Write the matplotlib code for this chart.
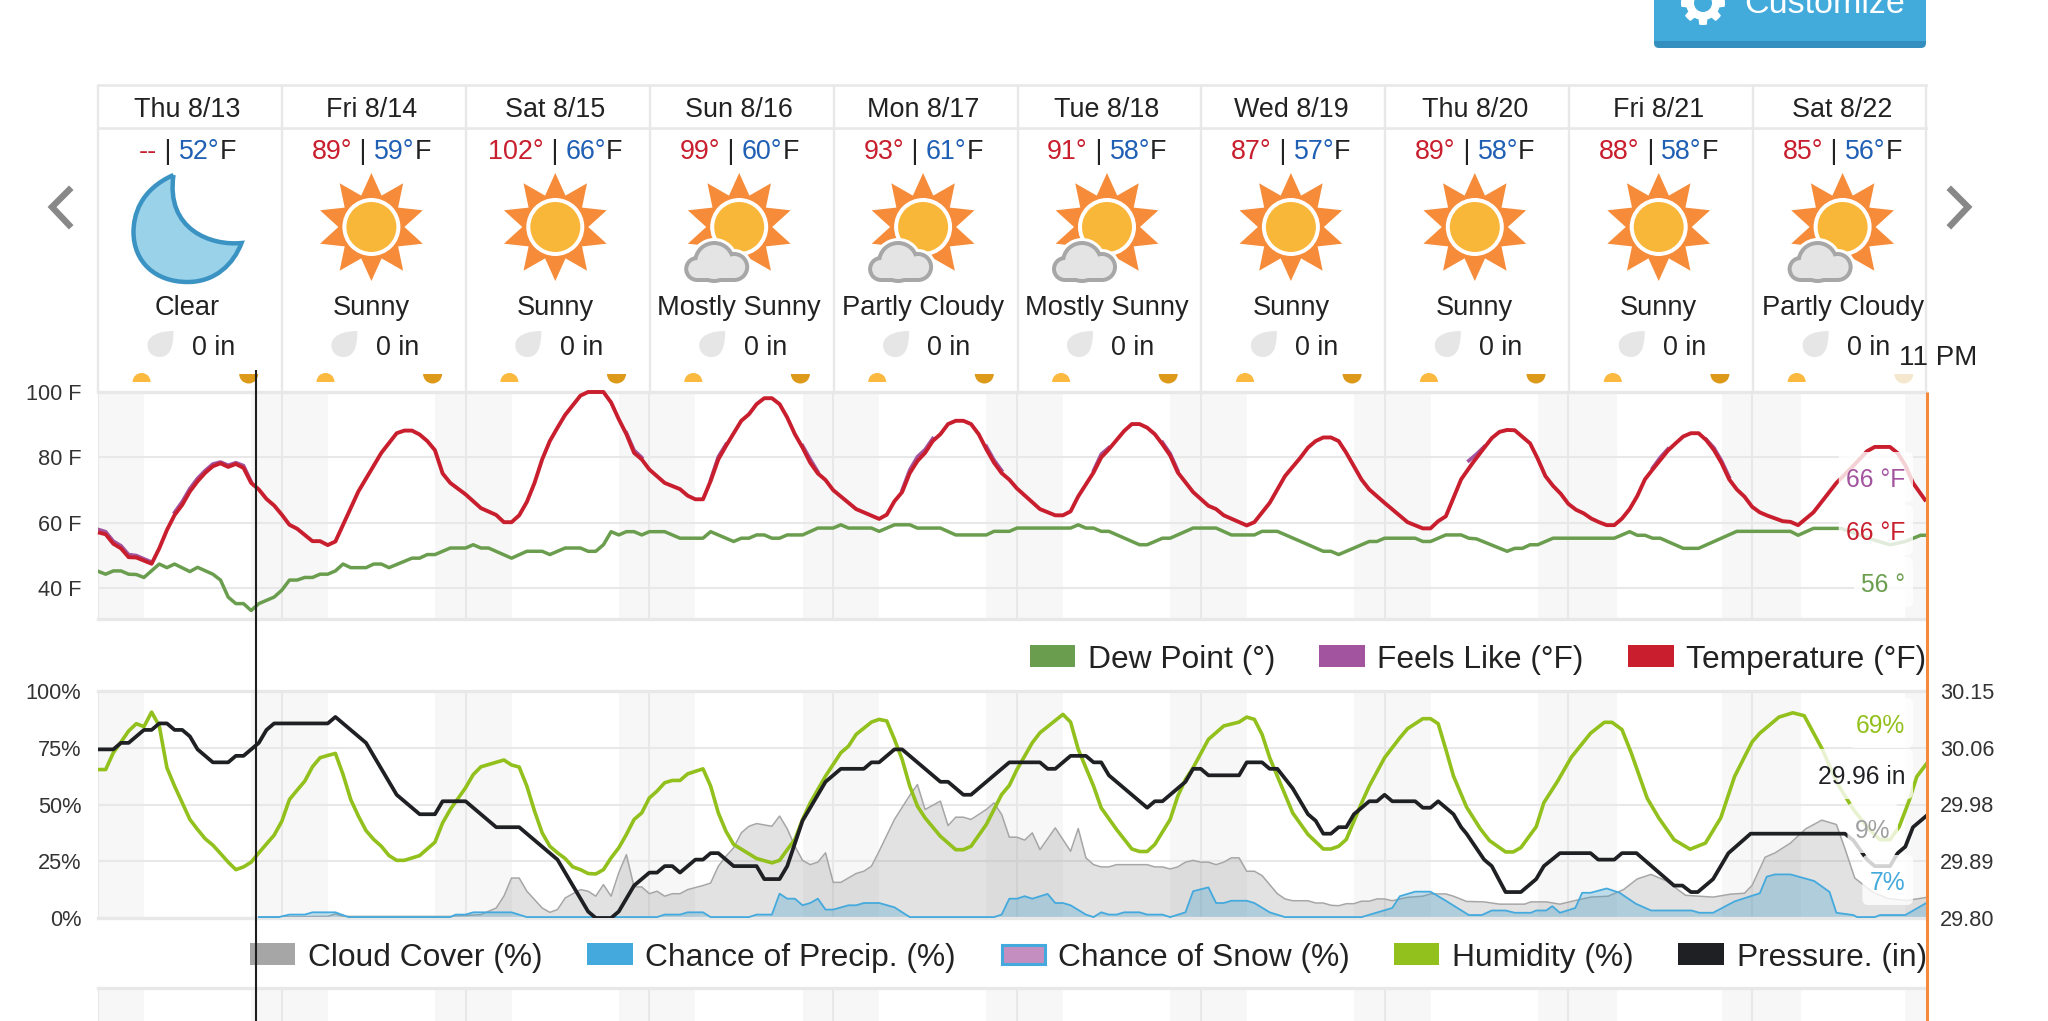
import numpy as np
import matplotlib
matplotlib.use("Agg")
import matplotlib.pyplot as plt
from matplotlib.patches import Circle, Polygon, Rectangle, Wedge, FancyBboxPatch, PathPatch
from matplotlib.path import Path

plt.rcParams['font.family'] = ['Liberation Sans', 'DejaVu Sans']

# header cards
days = ['Thu 8/13', 'Fri 8/14', 'Sat 8/15', 'Sun 8/16', 'Mon 8/17', 'Tue 8/18', 'Wed 8/19', 'Thu 8/20', 'Fri 8/21', 'Sat 8/22']
highs = ['--', '89°', '102°', '99°', '93°', '91°', '87°', '89°', '88°', '85°']
lows = ['52°', '59°', '66°', '60°', '61°', '58°', '57°', '58°', '58°', '56°']
conditions = ['Clear', 'Sunny', 'Sunny', 'Mostly Sunny', 'Partly Cloudy', 'Mostly Sunny', 'Sunny', 'Sunny', 'Sunny', 'Partly Cloudy']
rain = ['0 in'] * 10

# night bands, in hours from Thu midnight
night_start = [0, 20, 44, 68, 92, 116, 140, 164, 188, 212, 236]
night_end = [6, 30, 54, 78, 102, 126, 150, 174, 198.4, 222.4, 239]

# top chart
temp_h = [0, 1, 2, 3, 4, 5, 7, 8, 9, 10, 11, 12, 13, 14, 15, 16, 17, 18, 19, 20, 21, 22, 23, 24, 25, 26, 28, 29, 30, 31, 34, 37, 39, 40, 41, 42, 43, 44, 45, 46, 48, 50, 52, 53, 54, 55, 56, 57, 58, 59, 60, 61, 63, 64, 66, 67, 68, 69, 70, 71, 72, 74, 76, 77, 78, 79, 80, 81, 82, 84, 85, 86, 87, 88, 89, 90, 91, 92, 93, 94, 95, 96, 99, 102, 103, 104, 105, 106, 107, 108, 109, 110, 111, 112, 113, 114, 115, 116, 117, 118, 119, 120, 123, 125, 126, 127, 128, 130, 131, 132, 134, 135, 136, 137, 138, 139, 140, 141, 143, 145, 146, 147, 150, 151, 153, 155, 157, 158, 159, 160, 161, 162, 163, 165, 166, 168, 171, 173, 174, 175, 176, 178, 179.5, 181, 182, 183, 184, 185, 186, 187, 188, 189, 190, 191, 192, 193, 194, 195, 196, 197, 198, 199, 200, 201, 202, 203, 204, 205, 206, 207, 208, 209, 210, 211, 212, 213, 214, 215, 216, 217, 218, 220, 221, 222, 224, 225, 227, 229, 231, 232, 234, 235, 236, 237, 238.7]
temp_v = [57.1, 56.5, 53.6, 52.2, 49.5, 49.4, 47.5, 52.2, 57.8, 62.4, 65.5, 69.6, 72.7, 75.3, 77.3, 78.2, 77.1, 78, 76.8, 72.2, 70.2, 67.3, 65.3, 62.5, 59.4, 58.2, 54.4, 54.4, 53.2, 54.3, 69.6, 81.4, 87.4, 88.2, 88.2, 87, 85, 82.2, 75.1, 72.2, 68.7, 64.5, 62.4, 60.2, 60.2, 62.3, 66.4, 72.2, 79.4, 85, 89.1, 93, 98.9, 100, 100, 96.8, 91.7, 87.1, 81.4, 79.4, 76.3, 72.2, 70.3, 68.3, 67.2, 67.2, 72.8, 79.4, 83.5, 91.2, 93.2, 96.3, 98.1, 98.1, 96.3, 92.2, 87.1, 83, 78.4, 75.1, 73.1, 70, 64.2, 61.2, 62.5, 66.6, 69.4, 75.2, 78.9, 81.4, 85, 87.1, 90.2, 91.2, 91.2, 90.2, 87.1, 82.5, 78.4, 75.2, 73.2, 70.5, 64.2, 62.3, 62.3, 63.5, 68.1, 75.4, 80, 82.5, 88.1, 90.2, 90.2, 89.1, 87.1, 84, 80.6, 75.4, 69.4, 65.2, 64.2, 62.3, 59.2, 60.2, 66.1, 74.3, 79.9, 83, 85, 86.1, 86.1, 85, 81.4, 73.2, 70.2, 66.1, 60.2, 58.3, 58.3, 60.5, 62, 73.3, 78.3, 82.9, 85.9, 87.8, 88.4, 88.3, 86.3, 84.3, 79.6, 74.3, 71.3, 68.9, 65.8, 64, 62.9, 61.3, 60.2, 59.3, 59.3, 61.3, 64.2, 68.2, 73.3, 76.3, 79.2, 82.1, 84.3, 86.4, 87.4, 87.4, 85.3, 82.3, 78.3, 73.3, 70.2, 68, 64.9, 63.2, 62.2, 60.5, 60.3, 59.3, 63.2, 66.2, 72.2, 76.9, 81.9, 83.2, 83.2, 81.3, 77.6, 72.2, 66.6]

nan = float('nan')
feels_h = [0, 1, 2, 3, 4, 5, 7, nan, 10, 11, 12, 13, 14, 15, 16, 17, 18, 19, 20, nan, 69, 70, 71, nan, 80, 81, 82, nan, 92, 93, 94, nan, 105, 106, 107, 108, 109, nan, 116, 117, 118, nan, 130, 131, 132, nan, 139, 140, 141, nan, 179, 180, 181, nan, 203, 204, 205, nan, 210, 211, 212, 213]
feels_v = [58, 57.3, 54.4, 53, 50.3, 50, 48, nan, 63.2, 66.5, 70.5, 73.6, 76, 78, 78.6, 77.6, 78.4, 77.5, 72.6, nan, 87.5, 82.2, 80, nan, 73.2, 80.2, 84, nan, 83.6, 79.5, 75.6, nan, 70, 76.2, 80.2, 82.4, 85.8, nan, 83.4, 79.2, 76, nan, 76, 81, 83, nan, 84.6, 81.2, 76, nan, 79, 81, 83.3, nan, 76.8, 80, 82.6, nan, 85.5, 83, 79, 74]

dew_h = [0, 1, 2, 3, 4, 5, 6, 8, 9, 10, 12, 13, 15, 16, 17, 18, 19, 20, 21, 23, 24, 25, 26, 27, 28, 29, 30, 31, 32, 33, 35, 36, 37, 38, 41, 42, 43, 44, 46, 48, 49, 50, 51, 54, 56, 58, 59, 61, 63, 64, 65, 66, 67, 68, 69, 70, 71, 72, 74, 76, 79, 80, 83, 84, 85, 86, 87, 88, 89, 90, 92, 94, 96, 97, 98, 101, 102, 104, 106, 107, 110, 112, 116, 117, 119, 120, 127, 128, 129, 130, 131, 132, 136, 137, 139, 140, 143, 146, 148, 151, 152, 154, 160, 161, 162, 166, 167, 168, 172, 173, 174, 176, 178, 179, 180, 184, 185, 186, 187, 188, 190, 198, 200, 201, 202, 203, 204, 207, 209, 214, 221, 222, 224, 227.6, 231.7, 234, 236, 238, 239]
dew_v = [45.2, 44.3, 45.3, 45.3, 44.3, 44.2, 43.3, 47.4, 46.3, 47.4, 45.1, 46.4, 44.3, 42.5, 37.3, 35.3, 35.3, 33.2, 35.3, 37.3, 39.4, 42.5, 42.5, 43.3, 43.3, 44.3, 44.3, 45.3, 47.4, 46.3, 46.3, 47.4, 47.4, 46.3, 49.2, 49.2, 50.3, 50.3, 52.3, 52.3, 53.3, 52.3, 52.3, 49.2, 51.3, 51.3, 50.3, 52.3, 52.3, 51.3, 51.3, 53.3, 57.3, 56.3, 57.3, 57.3, 56.3, 57.3, 57.3, 55.3, 55.3, 57.3, 54.3, 55.3, 55.3, 56.3, 56.3, 55.3, 55.3, 56.3, 56.3, 58.4, 58.4, 59.4, 58.4, 58.4, 57.4, 59.4, 59.4, 58.4, 58.4, 56.3, 56.3, 57.4, 57.4, 58.4, 58.4, 59.4, 58.4, 58.4, 57.4, 57.4, 53.3, 53.3, 55.3, 55.3, 58.4, 58.4, 56.3, 56.3, 57.4, 57.4, 51.3, 51.3, 50.3, 54.3, 54.3, 55.3, 55.3, 54.3, 54.3, 56.3, 56.3, 55.3, 55.1, 51.3, 52.2, 52.2, 53.3, 53.3, 55.3, 55.3, 57.3, 56.2, 56.2, 55.3, 55.3, 52.2, 52.2, 57.4, 57.4, 56.2, 58.3, 58.3, 54.9, 53.3, 54.3, 56.2, 56.2]

# lower chart
hum_h = [0, 1, 2, 3, 4, 5, 6, 7, 8, 9, 10, 11, 12, 13, 14, 15, 16, 17, 18, 19, 20, 21, 23, 24, 25, 26, 27, 28, 29, 30, 31, 32, 33, 34, 35, 36, 37, 38, 39, 40, 42, 44, 45, 46, 48, 49, 50, 53, 54, 55, 56, 57, 58, 59, 60, 61, 62, 63, 64, 65, 66, 67, 68, 69, 70, 71, 72, 73, 74, 75, 76, 77, 79, 80, 81, 82, 83, 86, 88, 89, 90, 91, 92, 93, 95, 97, 98, 99, 101, 102, 103, 104, 105, 106, 107, 108, 110, 112, 113, 114, 116, 117, 118, 119, 120, 122, 123, 126, 127, 128, 130, 131, 133, 135, 136, 137, 138, 140, 141, 142, 143, 145, 147, 149, 150, 151, 152, 153, 154, 155, 156, 158, 160, 161, 162, 163, 165, 166, 168, 170, 171, 173, 174, 175, 176, 177, 178.7, 180.5, 181.7, 183.8, 184.8, 185.8, 187.8, 188.8, 190.6, 192.4, 194.9, 196.7, 197.7, 199, 200.2, 202.3, 203.8, 205.8, 207.9, 209.9, 211.9, 213.7, 216, 217, 219.5, 221.3, 222.8, 225.1, 227.1, 229.2, 231.2, 232.7, 234, 235.2, 236.5, 237.5, 239]
hum_v = [65.4, 65.4, 72.8, 77.5, 82.4, 85.6, 84.3, 90.7, 84.6, 66.2, 58.1, 50.7, 43.4, 39, 34.9, 32.1, 28.4, 24.6, 21.3, 22.5, 24.6, 28.7, 36.5, 42.6, 52.2, 56.3, 60.3, 66.6, 70.6, 71.6, 72.5, 63.2, 52.2, 44.9, 38.5, 34.6, 31.6, 27.5, 25.4, 25.4, 27.5, 33.4, 41.9, 47.8, 57.4, 63.2, 66.6, 69.6, 67.4, 66.5, 58.1, 47.1, 37.5, 31.6, 28.7, 26.2, 22.5, 21.3, 19.6, 19.4, 21.3, 26.5, 30.9, 36.8, 43.4, 46.3, 52.9, 55.9, 59.6, 60.6, 60.6, 63.5, 65.7, 58.1, 46.3, 38.2, 32.4, 26.2, 24.3, 25.4, 30.1, 34.6, 43.4, 50.7, 62.5, 72.8, 75.7, 80.9, 86.3, 87.5, 86.8, 78.7, 69.9, 58.1, 49.3, 44.1, 36, 30.1, 30.1, 31.6, 41.2, 47.8, 54.4, 58.4, 65.4, 77.2, 81.6, 89.7, 86.3, 74.3, 58.1, 48.5, 39, 30.4, 29.3, 29.3, 32.4, 43.4, 53.7, 61, 66.2, 78.7, 84.6, 86.3, 88.5, 87.5, 80.9, 70.6, 62.5, 54.4, 46.3, 36.8, 30.4, 30.4, 31.6, 34.6, 50.7, 58.1, 70.6, 79.4, 83.4, 87.8, 87.8, 85.6, 74.3, 62.5, 48.9, 39.3, 34.1, 29.1, 29.1, 31, 40.2, 50.8, 60.3, 70.9, 81.4, 86.2, 86.2, 83, 72.8, 52.7, 44.1, 34.5, 30.3, 33, 44.1, 62.3, 77.6, 81.4, 88.5, 90.4, 89.1, 74.7, 59.4, 47.9, 39.3, 34.5, 34.5, 40.2, 51.7, 62.3, 69]

press_h = [0, 2, 3, 4, 6, 7, 8, 9, 10, 11, 12, 13, 15, 17, 18, 19, 21, 22, 23, 30, 31, 35, 39, 42, 44, 45, 48, 52, 55, 60, 64, 65, 67, 68, 70, 72, 73, 74, 75, 76, 78, 79, 80, 81, 83, 86, 87, 89, 90, 92, 93, 95, 97, 100, 101, 102, 104, 105, 110, 111, 113, 114, 119, 123, 124, 125, 127, 129, 130, 131, 132, 137, 138, 139, 142, 143, 144, 145, 149, 150, 152, 153, 154, 156, 158, 159, 160, 161, 162, 163, 164, 166, 167, 168, 169, 172, 173, 174, 175, 177, 178, 178.7, 181, 182, 183.8, 185.8, 187.8, 188.8, 190.9, 194.9, 195.9, 198, 199, 200.9, 205.8, 206.9, 208, 208.9, 210.9, 212.9, 215.8, 228.1, 229.2, 231, 232, 234, 235, 236, 237, 238, 239]
press_v = [30.06, 30.06, 30.07, 30.07, 30.09, 30.09, 30.10, 30.10, 30.09, 30.09, 30.08, 30.06, 30.04, 30.04, 30.05, 30.05, 30.07, 30.09, 30.10, 30.10, 30.11, 30.07, 29.99, 29.96, 29.96, 29.98, 29.98, 29.94, 29.94, 29.89, 29.81, 29.80, 29.80, 29.81, 29.85, 29.87, 29.87, 29.88, 29.88, 29.87, 29.89, 29.89, 29.90, 29.90, 29.88, 29.88, 29.86, 29.86, 29.88, 29.95, 29.97, 30.01, 30.03, 30.03, 30.04, 30.04, 30.06, 30.06, 30.01, 30.01, 29.99, 29.99, 30.04, 30.04, 30.03, 30.03, 30.05, 30.05, 30.04, 30.04, 30.02, 29.97, 29.98, 29.98, 30.01, 30.03, 30.03, 30.02, 30.02, 30.04, 30.04, 30.03, 30.03, 30.00, 29.96, 29.95, 29.93, 29.93, 29.94, 29.94, 29.96, 29.98, 29.98, 29.99, 29.98, 29.98, 29.97, 29.97, 29.98, 29.96, 29.94, 29.93, 29.89, 29.88, 29.84, 29.84, 29.86, 29.88, 29.90, 29.90, 29.89, 29.89, 29.90, 29.90, 29.85, 29.85, 29.84, 29.84, 29.86, 29.90, 29.93, 29.93, 29.92, 29.89, 29.88, 29.88, 29.90, 29.91, 29.94, 29.95, 29.96]

cloud_h = [21, 30, 31, 32, 46, 50, 52, 53, 54, 55, 56, 57, 58, 59, 60, 61, 62, 63, 64, 65, 66, 67, 68, 69, 70, 71, 72, 73, 74, 75, 76, 77, 79, 80, 81, 82, 83, 84, 85, 86, 88, 89, 90, 91, 92, 93, 94, 95, 96, 97, 99, 100, 101, 102, 104, 106, 107, 108, 110, 111, 112, 113, 114, 116, 117, 118, 119, 120, 121, 122, 123, 125, 127, 128, 129, 130, 131, 132, 133, 137, 138, 139, 140, 141, 142, 143, 144, 145, 146, 147, 148, 149, 150, 151, 152, 153, 154, 155, 156, 158, 159, 160, 161, 162, 163, 164, 165, 166, 167, 168, 169, 171, 173, 174, 176, 177, 178.7, 181, 183, 186.3, 187.1, 189.1, 190.9, 192.9, 194.9, 197.2, 199.2, 201, 202.8, 204.8, 207.3, 210.9, 213.2, 215, 216, 217.7, 219, 221, 223, 225.1, 227, 228.1, 229.4, 231.7, 233.7, 236.2, 239]
cloud_v = [0.4, 0.7, 1.8, 0.7, 0.7, 1.5, 4.4, 9.6, 17.6, 17.6, 11.8, 8.1, 4.4, 2.5, 3.7, 8.8, 10.7, 12.5, 11.8, 9.6, 14.7, 9.6, 19.9, 27.9, 13.7, 13.7, 10.7, 11.8, 9.6, 10.7, 10.7, 12.5, 14.3, 15.4, 22.8, 27.2, 30.9, 37.5, 40.4, 41.6, 40.4, 44.9, 39.3, 31.6, 25.4, 23.5, 24.6, 28.7, 15.7, 15.7, 19.6, 20.6, 22.8, 29.4, 43.4, 54, 58.8, 47.8, 51.5, 40.7, 44.4, 44.4, 43.4, 47.8, 50.7, 45.6, 35.6, 35.6, 34.3, 37.5, 30.1, 39.7, 29.4, 39.4, 26.5, 23.5, 22.5, 22.5, 23.5, 23.5, 22.5, 22.5, 21.6, 22.5, 24.6, 25.4, 24.6, 24.6, 23.5, 24.6, 26.5, 26.5, 20.6, 20.6, 18.7, 14.7, 10.7, 8.4, 7.6, 7.6, 6.6, 6.6, 5.6, 5.4, 6.3, 6.3, 7.4, 7.4, 8.4, 8.4, 7.6, 9.1, 9.6, 10.6, 10.6, 9.6, 7.3, 7.1, 6.1, 6.1, 7.1, 7.1, 6.1, 7.7, 9.2, 9.6, 12.5, 17.2, 19.2, 16.3, 10, 9.2, 10.5, 10.9, 14.4, 26.8, 28.7, 33, 39.3, 43.1, 41.2, 30.7, 17.6, 11.5, 8.6, 7.7, 9.2]

precip_h = [21, 23.6, 25, 27, 28, 31, 32.7, 46, 46.7, 48, 49, 54, 56, 73, 74, 76, 77, 79, 80, 85, 86, 88, 89, 90, 91, 92, 93, 94, 95, 96, 98, 99, 100, 102, 104, 106, 117, 118, 119, 120, 121, 122, 124, 125, 126, 127, 129, 130, 131, 132, 133, 134, 136, 137, 139, 140, 142, 143, 145, 146, 147, 148, 150, 151, 153, 155, 165, 169, 170, 172, 174, 176, 179, 180.7, 182, 183.8, 185, 187.1, 187.8, 189.1, 189.9, 190.9, 192.9, 193.8, 194.9, 197, 198.7, 200.8, 202.8, 208.1, 209.1, 210.9, 213.7, 217, 217.9, 219, 221, 224.1, 226.1, 227, 229.2, 229.7, 232, 232.7, 236, 239]
precip_v = [0.4, 0.4, 1.5, 1.5, 2.5, 2.5, 0.4, 0.4, 1.5, 1.5, 2.5, 2.5, 0.4, 0.4, 1.5, 1.5, 2.5, 2.5, 0.4, 0.4, 1.5, 1.5, 10.7, 8.5, 8.5, 5.6, 6.6, 8.5, 3.7, 3.7, 5.6, 5.6, 6.6, 6.6, 4.7, 0.4, 0.4, 1.5, 8.5, 8.5, 9.6, 8.5, 10.6, 6.6, 6.6, 5.6, 1.5, 0.4, 2.5, 1.5, 1.5, 2.5, 2.5, 1.5, 1.5, 0.4, 2.5, 11.8, 13.5, 6.6, 6.6, 7.6, 7.6, 6.6, 2.5, 0.4, 0.4, 4.4, 9.6, 11.6, 11.6, 7.6, 1.3, 1.3, 3.3, 3.3, 2.3, 2.3, 3.3, 3.3, 5.2, 2.3, 4.4, 11.1, 11.1, 13, 11.1, 6.3, 3.3, 3.3, 2.3, 2.3, 7.3, 10.9, 18.2, 19.2, 19.2, 16.3, 11.5, 2.3, 1.3, 0.4, 0.4, 1.3, 1.3, 7.1]

# the site rounds these labels, the lines sit at even steps
pressure_ticks = [29.80, 29.8875, 29.975, 30.0625, 30.15]
pressure_labels = ['29.80', '29.89', '29.98', '30.06', '30.15']

TEMP = '#c81e2d'
DEW = '#6a9e4e'
FEELS = '#a2549f'
HUM = '#92c01c'
PRESS = '#1f2023'
CLOUD = '#a6a6a6'
PRECIP = '#44a9dc'
GRID = '#e8e8e8'
TEXT = '#222222'

W, H = 2048, 1021
L, R = 98, 1926
XMAX = 238.7
fig = plt.figure(figsize=(W / 100, H / 100), dpi=100)


def px_axes(x0, y0, x1, y1, z):
    return fig.add_axes([x0 / W, 1 - y1 / H, (x1 - x0) / W, (y1 - y0) / H], zorder=z)


bg = px_axes(0, 0, W, H, 0)
fg = px_axes(0, 0, W, H, 5)
for a in (bg, fg):
    a.set_xlim(0, W)
    a.set_ylim(H, 0)
    a.axis('off')
    a.patch.set_alpha(0)


def setup_chart(ax, yl):
    ax.set_xlim(0, XMAX)
    ax.set_ylim(*yl)
    for a, b in zip(night_start, night_end):
        ax.axvspan(a, b, color='#f7f7f7', lw=0, zorder=0)
    ax.set_xticks(range(0, 239, 24))
    ax.set_xticklabels([])
    ax.tick_params(length=0, labelsize=15.7, labelcolor='#333333')
    ax.grid(True, color=GRID, lw=1.5, zorder=0.5)
    ax.set_axisbelow(True)
    for s in ax.spines.values():
        s.set_visible(False)
    for s in ('top', 'bottom'):
        ax.spines[s].set_visible(True)
        ax.spines[s].set_color(GRID)
        ax.spines[s].set_linewidth(2.4)


# temperature chart
ax1 = px_axes(L, 392, R, 619, 1)
setup_chart(ax1, (30.6, 100))
ax1.set_yticks([40, 60, 80, 100])
ax1.set_yticklabels(['40 F', '60 F', '80 F', '100 F'])
ax1.tick_params(axis='y', pad=12)
ax1.plot(dew_h, dew_v, color=DEW, lw=2.5, zorder=3)
ax1.plot(feels_h, feels_v, color=FEELS, lw=2.6, zorder=3)
ax1.plot(temp_h, temp_v, color=TEMP, lw=2.8, zorder=4, solid_capstyle='butt', clip_on=False)

# humidity / pressure chart
ax2 = px_axes(L, 691, R, 918, 1)
setup_chart(ax2, (0, 100))
ax2.set_yticks([0, 25, 50, 75, 100])
ax2.set_yticklabels(['0%', '25%', '50%', '75%', '100%'])
ax2.tick_params(axis='y', pad=12)
ax2.fill_between(cloud_h, cloud_v, color='#9f9f9f', alpha=0.3, lw=0, zorder=2)
ax2.plot(cloud_h, cloud_v, color=CLOUD, lw=1.1, zorder=2.2)
ax2.fill_between(precip_h, precip_v, color='#3f9fd0', alpha=0.3, lw=0, zorder=2.4)
ax2.plot(precip_h, precip_v, color=PRECIP, lw=1.3, zorder=2.6)
ax2.plot(hum_h, hum_v, color=HUM, lw=2.6, zorder=3)

ax2b = ax2.twinx()
ax2b.set_xlim(0, XMAX)
ax2b.set_ylim(29.80, 30.15)
ax2b.set_yticks(pressure_ticks)
ax2b.set_yticklabels(pressure_labels)
ax2b.tick_params(length=0, labelsize=15.7, labelcolor='#333333', pad=10)
for s in ax2b.spines.values():
    s.set_visible(False)
ax2b.plot(press_h, press_v, color=PRESS, lw=2.7, zorder=5)

# third chart, only its top shows
ax3 = px_axes(L, 988, R, H, 1)
setup_chart(ax3, (0, 1))
ax3.set_yticks([])
ax3.spines['bottom'].set_visible(False)

# header grid
cell = 183.9
for k in range(10):
    x = L + k * cell
    bg.plot([x, x], [85, 392], color=GRID, lw=1.7, solid_capstyle='butt')
bg.plot([R, R], [85, 392], color=GRID, lw=1.7, solid_capstyle='butt')
bg.plot([L, R], [85, 85], color=GRID, lw=1.9)
bg.plot([L, R], [128, 128], color=GRID, lw=1.9)


def star(cx, cy):
    ang = np.radians(np.arange(20) * 18 - 90)
    rad = np.where(np.arange(20) % 2 == 0, 54, 33)
    bg.add_patch(Polygon(np.c_[cx + rad * np.cos(ang), cy + rad * np.sin(ang)], fc='#f68b3a', ec='none'))
    bg.add_patch(Circle((cx, cy), 29, fc='white', ec='none'))
    bg.add_patch(Circle((cx, cy), 25, fc='#f9b73a', ec='none'))


def cloud(cx, cy):
    lobes = [(-25, 35, 17), (-5, 40, 11), (-42, 42, 9)]
    for grow, col in ((7, 'white'), (4, '#a7a7a7'), (0, '#e4e4e4')):
        for dx, dy, r in lobes:
            bg.add_patch(Circle((cx + dx, cy + dy), r + grow, fc=col, ec='none'))
        bg.add_patch(Rectangle((cx - 42, cy + 38), 37, 13 + grow, fc=col, ec='none'))


def moon(cx, cy):
    verts = [(cx - 14, cy - 53), (cx - 48, cy - 38), (cx - 54, cy - 12), (cx - 54, cy + 4),
             (cx - 54, cy + 34), (cx - 32, cy + 54), (cx, cy + 54),
             (cx + 28, cy + 54), (cx + 46, cy + 36), (cx + 54, cy + 15),
             (cx + 24, cy + 18), (cx - 22, cy + 2), (cx - 14, cy - 53)]
    codes = [Path.MOVETO] + [Path.CURVE4] * 12
    bg.add_patch(PathPatch(Path(verts, codes), fc='#9ad2ea', ec='#3a93c2', lw=3.2, joinstyle='miter'))


def drop(cx, cy):
    verts = [(cx + 13, cy - 13), (cx - 2, cy - 13), (cx - 13, cy - 8), (cx - 13, cy + 1),
             (cx - 13, cy + 8), (cx - 8, cy + 13), (cx - 1, cy + 13),
             (cx + 8, cy + 13), (cx + 13, cy + 6), (cx + 13, cy - 13)]
    codes = [Path.MOVETO] + [Path.CURVE4] * 9
    bg.add_patch(PathPatch(Path(verts, codes), fc='#e6e6e6', ec='none'))


renderer = fig.canvas.get_renderer()


def segments(cx, cy, parts, size):
    widths = []
    for s, c in parts:
        t = bg.text(0, 0, s.replace(' ', '\u00a0'), fontsize=size)
        widths.append(t.get_window_extent(renderer).width)
        t.remove()
    x = cx - sum(widths) / 2
    for (s, c), w in zip(parts, widths):
        bg.text(x, cy, s.replace(' ', '\u00a0'), color=c, fontsize=size, ha='left', va='center_baseline')
        x += w


for k in range(10):
    cx = 187.5 + k * cell
    bg.text(cx, 107, days[k], ha='center', va='center_baseline', fontsize=19.4, color=TEXT)
    segments(cx, 149, [(highs[k], TEMP), (' | ', TEXT), (lows[k], '#1f5fb4'), ('F', TEXT)], 19.4)
    if k == 0:
        moon(cx, 228)
    else:
        star(cx, 227)
    if conditions[k] in ('Mostly Sunny', 'Partly Cloudy'):
        cloud(cx, 227)
    bg.text(cx, 305, conditions[k], ha='center', va='center_baseline', fontsize=19.6, color=TEXT, zorder=6)
    drop(cx - 27, 344)
    bg.text(cx + 26, 345, rain[k], ha='center', va='center_baseline', fontsize=19.4, color=TEXT)
    bg.add_patch(Wedge((141.6 + k * cell, 382), 9, 180, 360, fc='#fcb940', ec='none'))
    col = '#f6e8cf' if k == 9 else '#dd9a1a'
    bg.add_patch(Wedge((248.7 + k * cell, 374), 9.5, 0, 180, fc=col, ec='none'))

# nav arrows
bg.plot([69, 52, 69], [190, 207, 225], color='#888888', lw=4.6, solid_joinstyle='miter')
bg.plot([1951, 1968, 1951], [190, 207, 225], color='#888888', lw=4.6, solid_joinstyle='miter')

# customize button
bg.add_patch(FancyBboxPatch((1654, -20), 272, 68, boxstyle='round,pad=0,rounding_size=5', fc='#358fbe', ec='none'))
bg.add_patch(Rectangle((1654, -20), 272, 61, fc='#42abdb', ec='none'))
ang = np.radians(np.arange(0, 360, 5))
gear_r = 17 + 5 * (np.cos(np.radians(np.arange(0, 360, 5)) * 8) > 0)
bg.add_patch(Polygon(np.c_[1703 + gear_r * np.sin(ang), 3 + gear_r * np.cos(ang)], fc='white', ec='none'))
bg.add_patch(Circle((1703, 3), 9, fc='#42abdb', ec='none'))
bg.text(1744, 13, 'Customize', color='white', fontsize=24.5, ha='left', va='baseline', clip_on=True)

# legends
legend1 = [(1030, 1075, DEW, None, 1088, 'Dew Point (°)'), (1319, 1365, FEELS, None, 1377, 'Feels Like (°F)'),
           (1628, 1674, TEMP, None, 1686, 'Temperature (°F)')]
legend2 = [(250, 295, CLOUD, None, 308, 'Cloud Cover (%)'), (587, 633, PRECIP, None, 645, 'Chance of Precip. (%)'),
           (1000, 1046, '#c48fc0', PRECIP, 1058, 'Chance of Snow (%)'), (1394, 1439, HUM, None, 1452, 'Humidity (%)'),
           (1678, 1724, PRESS, None, 1737, 'Pressure. (in)')]
for items, y0, y1, yt in ((legend1, 645, 667, 656), (legend2, 943, 965, 954)):
    for x0, x1, fc, ec, xt, label in items:
        if ec:
            bg.add_patch(Rectangle((x0 + 1.5, y0 + 1.5), x1 - x0 - 3, y1 - y0 - 3, fc=fc, ec=ec, lw=2.2))
        else:
            bg.add_patch(Rectangle((x0, y0), x1 - x0, y1 - y0, fc=fc, ec='none'))
        bg.text(xt, yt, label, ha='left', va='center_baseline', fontsize=22.85, color=TEXT)

# cursors and tooltips
fg.plot([256, 256], [370, H], color='#1e1e1e', lw=1.5, solid_capstyle='butt')
fg.plot([1926.5, 1926.5], [392, H], color='#f58a3c', lw=2.2, solid_capstyle='butt')
fg.text(1899, 355, '11 PM', ha='left', va='center_baseline', fontsize=20, color=TEXT)
tips = [(1905, 477, '66 °F', FEELS), (1905, 530, '66 °F', TEMP), (1905, 582, '56 °', DEW),
        (1905, 723, '69%', HUM), (1905, 774, '29.96 in', PRESS), (1890, 828, '9%', '#a0a0a0'), (1905, 880, '7%', PRECIP)]
for x, y, s, c in tips:
    t = fg.text(x, y, s, ha='right', va='center_baseline', fontsize=17.7, color=c, zorder=3)
    w = t.get_window_extent(renderer).width
    fg.add_patch(FancyBboxPatch((x - w - 7, y - 25), w + 15, 50, boxstyle='round,pad=0,rounding_size=6',
                                fc='white', ec='none', alpha=0.8, zorder=2))

fig.savefig('out.png', dpi=100)
